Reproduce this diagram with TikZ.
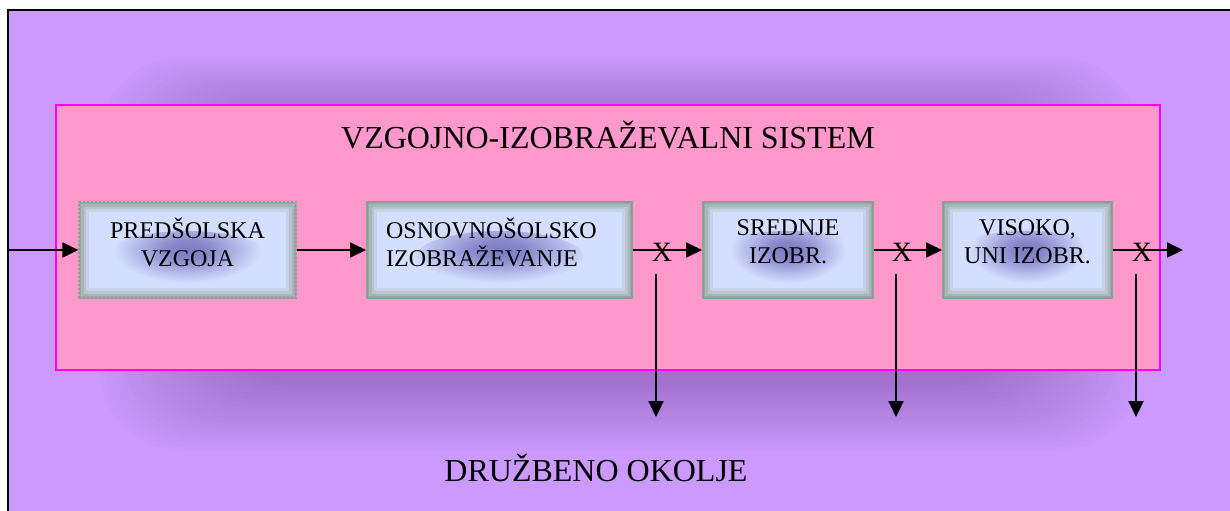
\documentclass[tikz,border=0pt]{standalone}
\usepackage{fontspec}
\setmainfont{Liberation Serif}
\usetikzlibrary{arrows.meta}
\definecolor{envfill}{HTML}{CC99FF}
\definecolor{envshade}{HTML}{6E4896}
\definecolor{sysfill}{HTML}{FF99CC}
\definecolor{sysedge}{HTML}{FF00FF}
\definecolor{stagefill}{HTML}{D4DEFF}
\definecolor{stageedge}{HTML}{8E9E90}
\definecolor{stageblob}{HTML}{7A7AC2}
\pgfdeclareradialshading{stageglow}{\pgfpoint{0bp}{0bp}}{%
  color(0bp)=(stageblob); color(5bp)=(stageblob!85!stagefill);
  color(17bp)=(stagefill); color(50bp)=(stagefill)}

\begin{document}
\begin{tikzpicture}[x=0.5pt, y=-0.5pt,
    flow/.style={-{Triangle[length=8pt,width=7.5pt]}, line width=1pt},
    stage/.style={minimum height=48pt, inner sep=0pt, fill=stagefill,
      draw=stageedge, line width=1pt,
      path picture={
        \shade[shading=stageglow]
          ([yshift=-3.5pt]path picture bounding box.center) ellipse (42pt and 13pt);
        \foreach \w/\o in {10/0.2, 7/0.25, 4.5/0.35, 2/0.5}
          \draw[solid, stageedge, line width=\w pt, opacity=\o]
            (path picture bounding box.south west) rectangle (path picture bounding box.north east);
      }},
    stagetext/.style={font=\fontsize{12}{14}\selectfont, inner sep=0pt, yshift=4pt},
    cut/.style={font=\fontsize{14}{16}\selectfont, inner sep=0pt}]
                \useasboundingbox (0,0) rectangle (1230,510);
                \clip (0,0) rectangle (1230,510);

                % Social environment
                \draw[line width=1pt, fill=envfill] (8,10) rectangle (1250,530);
                \node[font=\fontsize{16}{19}\selectfont] (env) at (596,468) {DRUŽBENO OKOLJE};

                % Soft shadow round the system
                \foreach \k in {0,...,19}
                  \fill[envshade, opacity=0.022, rounded corners=40pt]
                    (100+6*\k,58+3*\k) rectangle (1140-6*\k,450-3.5*\k);

                % Education system
                \draw[sysedge, line width=1pt, fill=sysfill] (56,105) rectangle (1160,370);
                \node[font=\fontsize{16}{19}\selectfont] (sys) at (608,135) {VZGOJNO-IZOBRAŽEVALNI SISTEM};

                % Stages
                \node[stage, minimum width=108.5pt, densely dotted, line width=0.6pt,
                  label={[stagetext, align=center, name=pre-t]center:PREDŠOLSKA\\VZGOJA}] (pre) at (187.5,250) {};
                \node[stage, minimum width=132.5pt,
                  label={[stagetext, align=left, xshift=-4pt, name=osn-t]center:OSNOVNOŠOLSKO\\IZOBRAŽEVANJE}] (osn) at (499.5,250) {};
                \node[stage, minimum width=85pt,
                  label={[stagetext, align=center, name=sre-t]center:SREDNJE\\IZOBR.}] (sre) at (788,250) {};
                \node[stage, minimum width=84.5pt,
                  label={[stagetext, align=center, name=vis-t]center:VISOKO,\\UNI IZOBR.}] (vis) at (1027.5,250) {};

                % Flow through the system
                \coordinate (in) at (8,250);
                \coordinate (out) at (1183,250);
                \draw[flow] (in) -- (pre);
                \draw[flow] (pre) -- (osn);
                \draw[flow] (osn) -- (sre);
                \draw[flow] (sre) -- (vis);
                \draw[flow] (vis) -- (out);

                % Exits into the environment
                \foreach \i/\x/\c in {1/656/662, 2/896/902, 3/1136/1142} {
                  \node[cut] (x\i) at (\c,252) {X};
                  \coordinate (u\i) at (\x,274);
                  \coordinate (d\i) at (\x,417);
                  \draw[flow] (u\i) -- (d\i);
                }
            \end{tikzpicture}
\end{document}
